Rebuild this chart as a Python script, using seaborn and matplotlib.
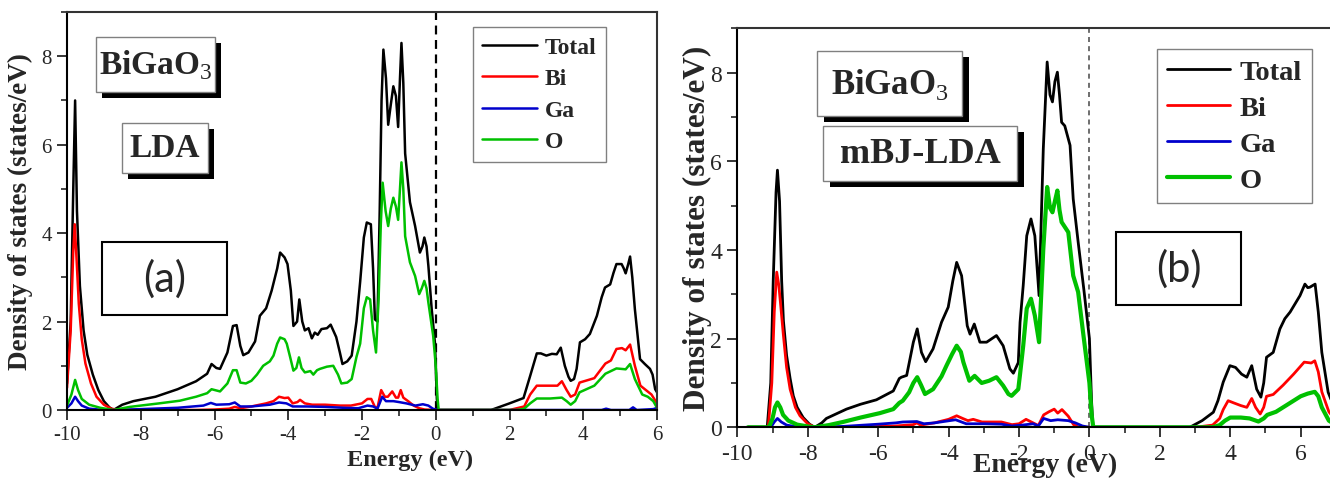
import matplotlib
matplotlib.use("Agg")
import matplotlib.pyplot as plt
from matplotlib.patches import Rectangle
from matplotlib.ticker import MultipleLocator
import seaborn as sns

# ---------------- (a) LDA ----------------
lda_total_e = [-10.0, -9.9, -9.83, -9.78, -9.73, -9.65, -9.55, -9.45, -9.3, -9.15, -9.0, -8.85, -8.74, -8.5,
               -8.2, -7.6, -7.0, -6.5, -6.2, -6.08, -5.95, -5.85, -5.65, -5.5, -5.4, -5.3, -5.22, -5.08, -4.9,
               -4.77, -4.6, -4.45, -4.3, -4.22, -4.1, -4.02, -3.93, -3.86, -3.76, -3.7, -3.62, -3.55, -3.45,
               -3.36, -3.28, -3.2, -3.1, -2.95, -2.85, -2.7, -2.6, -2.53, -2.4, -2.28, -2.15, -2.05, -1.95,
               -1.87, -1.76, -1.7, -1.65, -1.58, -1.52, -1.47, -1.42, -1.35, -1.29, -1.22, -1.15, -1.08, -1.02,
               -0.97, -0.93, -0.88, -0.83, -0.7, -0.56, -0.43, -0.36, -0.31, -0.25, -0.2, -0.11, -0.02, 0.03,
               0.06, 1.5, 2.0, 2.38, 2.56, 2.74, 2.85, 3.0, 3.15, 3.28, 3.39, 3.5, 3.6, 3.66, 3.75, 3.82, 3.91,
               4.05, 4.18, 4.37, 4.5, 4.59, 4.73, 4.82, 4.9, 5.04, 5.1, 5.15, 5.22, 5.27, 5.33, 5.4, 5.54, 5.67,
               5.81, 5.88, 5.95, 6.0]
lda_total = [0.6, 2.0, 5.0, 7.0, 4.5, 2.8, 1.8, 1.25, 0.8, 0.45, 0.2, 0.06, 0.0, 0.12,
             0.2, 0.3, 0.47, 0.65, 0.82, 1.04, 0.95, 0.93, 1.3, 1.9, 1.92, 1.45, 1.24, 1.3, 1.55,
             2.13, 2.3, 2.7, 3.2, 3.56, 3.45, 3.3, 2.7, 1.9, 2.0, 2.5, 2.0, 1.8, 1.85,
             1.62, 1.75, 1.7, 1.83, 1.85, 1.93, 1.65, 1.3, 1.04, 1.1, 1.23, 2.0, 2.9, 3.9,
             4.24, 4.2, 3.2, 2.05, 2.0, 4.5, 7.0, 8.15, 7.5, 6.45, 6.9, 7.32, 7.1, 6.4,
             7.5, 8.3, 7.4, 5.8, 4.7, 4.16, 3.56, 3.7, 3.9, 3.7, 3.26, 2.28, 1.5, 0.25,
             0.0, 0.0, 0.15, 0.27, 0.77, 1.28, 1.28, 1.23, 1.27, 1.26, 1.41, 1.0, 0.75, 0.66, 0.7, 0.93, 1.53,
             1.6, 1.72, 2.13, 2.55, 2.77, 2.84, 3.1, 3.3, 3.3, 3.2, 3.09, 3.3, 3.47, 3.0, 2.28, 1.15, 1.04,
             0.93, 0.8, 0.47, 0.4]

lda_bi_e = [-10.0, -9.9, -9.83, -9.79, -9.74, -9.68, -9.6, -9.5, -9.35, -9.2, -9.0, -8.8, -8.6, -6.5, -6.0,
            -5.6, -5.45, -5.3, -5.0, -4.6, -4.4, -4.25, -4.1, -4.0, -3.88, -3.75, -3.68, -3.55, -3.35, -3.0,
            -2.6, -2.3, -2.0, -1.85, -1.75, -1.65, -1.58, -1.48, -1.38, -1.3, -1.18, -1.08, -1.02, -0.95,
            -0.88, -0.75, -0.6, -0.45, -0.3, 0.0, 2.0, 2.4, 2.56, 2.74, 3.3, 3.42, 3.55, 3.66, 3.78, 3.9,
            4.3, 4.6, 4.75, 4.9, 5.05, 5.15, 5.27, 5.4, 5.55, 5.7, 5.85, 6.0]
lda_bi = [0.5, 1.8, 3.6, 4.2, 3.4, 2.4, 1.6, 1.05, 0.6, 0.3, 0.12, 0.03, 0.0, 0.0, 0.01,
          0.03, 0.07, 0.04, 0.08, 0.15, 0.2, 0.3, 0.27, 0.28, 0.15, 0.18, 0.23, 0.15, 0.12, 0.12,
          0.1, 0.1, 0.15, 0.25, 0.25, 0.07, 0.05, 0.45, 0.3, 0.3, 0.42, 0.28, 0.28, 0.45,
          0.28, 0.2, 0.1, 0.04, 0.01, 0.0, 0.0, 0.08, 0.35, 0.55, 0.55, 0.65, 0.45, 0.3, 0.35, 0.62,
          0.72, 1.05, 1.12, 1.38, 1.4, 1.35, 1.48, 1.0, 0.55, 0.45, 0.35, 0.15]

lda_ga_e = [-10.0, -9.88, -9.78, -9.7, -9.6, -9.4, -9.0, -8.7, -8.0, -7.0, -6.3, -6.1, -5.95, -5.6, -5.45,
            -5.3, -5.0, -4.5, -4.25, -4.05, -3.88, -3.5, -3.0, -2.5, -2.1, -1.85, -1.7, -1.58, -1.45, -1.35,
            -1.15, -1.0, -0.8, -0.55, -0.35, -0.2, -0.08, 0.05, 4.5, 4.62, 4.75, 5.25, 5.35, 5.45, 5.9, 6.0]
lda_ga = [0.05, 0.15, 0.3, 0.2, 0.1, 0.03, 0.0, 0.0, 0.02, 0.05, 0.1, 0.16, 0.12, 0.13, 0.17,
          0.08, 0.08, 0.12, 0.17, 0.15, 0.08, 0.08, 0.07, 0.05, 0.04, 0.1, 0.08, 0.03, 0.3, 0.2,
          0.2, 0.18, 0.15, 0.1, 0.13, 0.1, 0.03, 0.0, 0.0, 0.03, 0.0, 0.0, 0.06, 0.0, 0.02, 0.05]

lda_o_e = [-10.0, -9.88, -9.78, -9.7, -9.6, -9.4, -9.1, -8.74, -8.3, -7.5, -6.94, -6.5, -6.2, -6.08, -5.85,
           -5.65, -5.5, -5.4, -5.3, -5.15, -5.0, -4.85, -4.68, -4.5, -4.4, -4.3, -4.22, -4.1, -4.04, -3.95,
           -3.86, -3.78, -3.71, -3.64, -3.55, -3.4, -3.32, -3.22, -3.14, -2.95, -2.78, -2.65, -2.56, -2.4,
           -2.28, -2.15, -2.05, -1.95, -1.87, -1.78, -1.7, -1.62, -1.55, -1.49, -1.44, -1.36, -1.29, -1.22,
           -1.15, -1.08, -1.02, -0.97, -0.93, -0.88, -0.83, -0.7, -0.56, -0.45, -0.38, -0.31, -0.25, -0.2,
           -0.07, 0.0, 0.05, 0.08, 2.2, 2.4, 2.56, 2.74, 3.1, 3.42, 3.55, 3.66, 3.78, 3.9, 4.3, 4.6, 4.9,
           5.15, 5.27, 5.4, 5.6, 5.75, 5.9, 6.0]
lda_o = [0.1, 0.35, 0.68, 0.45, 0.25, 0.12, 0.05, 0.0, 0.07, 0.15, 0.21, 0.3, 0.38, 0.47, 0.42,
         0.6, 0.9, 0.9, 0.62, 0.6, 0.66, 0.8, 1.0, 1.1, 1.23, 1.5, 1.64, 1.6, 1.5, 1.2,
         0.89, 0.95, 1.19, 0.95, 0.85, 0.88, 0.8, 0.9, 0.93, 0.98, 1.0, 0.8, 0.6, 0.62,
         0.7, 1.2, 1.5, 2.3, 2.55, 2.5, 1.8, 1.3, 2.5, 4.2, 5.14, 4.5, 4.16, 4.55,
         4.8, 4.6, 4.3, 5.0, 5.6, 5.0, 3.93, 3.34, 3.03, 2.62, 2.75, 2.92, 2.75, 2.43,
         1.68, 1.0, 0.25, 0.0, 0.0, 0.03, 0.15, 0.26, 0.26, 0.28, 0.2, 0.12, 0.2, 0.4, 0.55, 0.82, 0.94,
         0.92, 1.04, 0.7, 0.35, 0.3, 0.2, 0.05]

# ---------------- (b) mBJ-LDA ----------------
mbj_total_e = [-9.7, -9.15, -9.05, -8.98, -8.9, -8.86, -8.8, -8.74, -8.69, -8.6, -8.5, -8.41, -8.3, -8.13,
               -7.95, -7.8, -7.6, -7.47, -6.9, -6.5, -6.05, -5.57, -5.4, -5.34, -5.19, -5.0, -4.89, -4.77,
               -4.65, -4.44, -4.2, -4.01, -3.88, -3.77, -3.63, -3.47, -3.39, -3.27, -3.11, -2.92, -2.64,
               -2.45, -2.26, -2.16, -2.02, -1.97, -1.88, -1.78, -1.66, -1.55, -1.43, -1.31, -1.2, -1.12,
               -1.05, -0.98, -0.91, -0.85, -0.79, -0.7, -0.55, -0.46, -0.32, -0.16, 0.0, 0.06, 0.1, 2.85,
               3.2, 3.52, 3.65, 3.8, 3.99, 4.15, 4.32, 4.47, 4.61, 4.75, 4.87, 4.95, 5.03, 5.22, 5.41, 5.55,
               5.7, 5.98, 6.12, 6.2, 6.26, 6.41, 6.5, 6.6, 6.78, 6.9, 7.0]
mbj_total = [0.0, 0.0, 1.0, 3.3, 5.3, 5.8, 5.1, 3.3, 2.4, 1.62, 1.1, 0.71, 0.45, 0.22,
             0.07, 0.0, 0.1, 0.2, 0.41, 0.52, 0.62, 0.82, 1.1, 1.13, 1.17, 1.92, 2.22, 1.69,
             1.48, 1.77, 2.37, 2.71, 3.3, 3.72, 3.42, 2.29, 2.1, 2.33, 1.92, 1.92, 2.07,
             1.84, 1.32, 1.22, 1.46, 2.37, 3.2, 4.32, 4.7, 4.32, 2.97, 6.28, 8.24, 7.5,
             7.34, 7.8, 8.01, 7.5, 6.88, 6.8, 6.36, 5.15, 4.18, 3.12, 2.0, 0.6, 0.0, 0.0,
             0.15, 0.34, 0.6, 1.02, 1.39, 1.35, 1.2, 1.13, 1.39, 0.86, 0.68, 1.0, 1.58, 1.69, 2.22, 2.45,
             2.6, 2.97, 3.23, 3.15, 3.16, 3.23, 2.6, 1.69, 0.79, 0.55, 0.45]

mbj_bi_e = [-9.7, -9.12, -9.02, -8.95, -8.88, -8.82, -8.75, -8.69, -8.6, -8.5, -8.35, -8.22, -8.0, -7.8,
            -6.5, -6.0, -5.5, -5.0, -4.9, -4.8, -4.4, -4.0, -3.77, -3.6, -3.45, -3.3, -3.05, -2.5, -2.2,
            -2.0, -1.8, -1.65, -1.45, -1.3, -1.15, -1.0, -0.9, -0.78, -0.6, -0.45, -0.3, 3.0, 3.5, 3.7,
            3.8, 3.94, 4.1, 4.3, 4.47, 4.61, 4.72, 4.85, 4.95, 5.03, 5.22, 5.5, 5.8, 6.1, 6.3, 6.4, 6.5,
            6.6, 6.8, 7.0]
mbj_bi = [0.0, 0.0, 1.0, 2.6, 3.5, 3.2, 2.6, 2.07, 1.35, 0.86, 0.45, 0.26, 0.08, 0.0,
          0.0, 0.02, 0.03, 0.06, 0.1, 0.05, 0.1, 0.18, 0.26, 0.2, 0.15, 0.18, 0.12, 0.12, 0.06,
          0.08, 0.18, 0.12, 0.04, 0.28, 0.35, 0.41, 0.32, 0.4, 0.25, 0.06, 0.0, 0.0, 0.05, 0.2,
          0.4, 0.6, 0.55, 0.49, 0.45, 0.65, 0.45, 0.3, 0.45, 0.7, 0.74, 0.95, 1.2, 1.47, 1.45, 1.5, 1.25,
          0.8, 0.35, 0.15]

mbj_ga_e = [-9.7, -9.05, -8.95, -8.86, -8.75, -8.6, -8.3, -7.8, -7.0, -6.0, -5.5, -5.3, -4.9, -4.7, -4.4,
            -3.8, -3.5, -3.0, -2.5, -2.2, -1.9, -1.6, -1.45, -1.3, -1.1, -0.9, -0.6, -0.4, -0.2, 0.0, 7.0]
mbj_ga = [0.0, 0.0, 0.12, 0.2, 0.12, 0.05, 0.01, 0.0, 0.02, 0.07, 0.1, 0.12, 0.13, 0.08, 0.1,
          0.17, 0.08, 0.08, 0.07, 0.03, 0.05, 0.08, 0.03, 0.2, 0.15, 0.17, 0.15, 0.1, 0.03, 0.0, 0.0]

mbj_o_e = [-9.7, -9.1, -9.0, -8.93, -8.86, -8.78, -8.7, -8.55, -8.3, -8.0, -7.8, -7.4, -7.0, -6.5, -5.95,
           -5.57, -5.4, -5.3, -5.12, -5.0, -4.89, -4.78, -4.67, -4.44, -4.2, -4.06, -3.9, -3.77, -3.65,
           -3.58, -3.41, -3.26, -3.06, -2.85, -2.64, -2.45, -2.3, -2.21, -2.02, -1.97, -1.88, -1.78, -1.66,
           -1.55, -1.43, -1.31, -1.2, -1.12, -1.05, -0.98, -0.91, -0.85, -0.79, -0.6, -0.46, -0.32, -0.18,
           0.0, 0.06, 0.11, 3.5, 3.7, 3.85, 4.0, 4.3, 4.55, 4.8, 4.95, 5.05, 5.3, 5.6, 6.0, 6.2, 6.4, 6.5,
           6.6, 6.8, 7.0]
mbj_o = [0.0, 0.0, 0.2, 0.45, 0.56, 0.45, 0.28, 0.15, 0.06, 0.02, 0.0, 0.05, 0.12, 0.22, 0.32,
         0.41, 0.55, 0.6, 0.79, 1.0, 1.13, 0.95, 0.75, 0.86, 1.15, 1.39, 1.65, 1.84, 1.7,
         1.47, 1.05, 1.16, 1.0, 1.05, 1.13, 0.94, 0.75, 0.71, 0.86, 1.2, 1.84, 2.68, 2.9,
         2.52, 1.92, 4.02, 5.42, 4.95, 4.85, 5.1, 5.34, 4.9, 4.63, 4.4, 3.42, 3.05, 2.14,
         1.0, 0.3, 0.0, 0.0, 0.05, 0.15, 0.22, 0.22, 0.2, 0.13, 0.2, 0.28, 0.35, 0.5, 0.7, 0.76, 0.8, 0.7,
         0.45, 0.15, 0.05]

species = ["Total", "Bi", "Ga", "O"]
colors = {"Total": "#000000", "Bi": "#ff0000", "Ga": "#0000cc", "O": "#00c000"}

W, H = 1330, 481
sns.set_style("ticks")
plt.rcParams["font.family"] = ["Liberation Serif", "DejaVu Serif"]
plt.rcParams["mathtext.fontset"] = "custom"
plt.rcParams["mathtext.rm"] = "Liberation Serif"
plt.rcParams["mathtext.bf"] = "Liberation Serif:bold"
plt.rcParams["axes.unicode_minus"] = False

fig = plt.figure(figsize=(W / 100, H / 100), dpi=100)
fig.patch.set_facecolor("white")


def px_axes(x0, y0, x1, y1):
    return [x0 / W, 1 - y1 / H, (x1 - x0) / W, (y1 - y0) / H]


def fig_box(x0, y0, x1, y1, text, size, shadow=None, edge="#808080", lw=1.0,
            family=None, weight="bold", dy=0.0):
    if shadow:
        sx, sy = shadow
        fig.add_artist(Rectangle(((x0 + sx) / W, 1 - (y1 + sy) / H),
                                 (x1 - x0) / W, (y1 - y0) / H, transform=fig.transFigure,
                                 facecolor="black", edgecolor="black", lw=0, zorder=5))
    fig.add_artist(Rectangle((x0 / W, 1 - y1 / H), (x1 - x0) / W, (y1 - y0) / H,
                             transform=fig.transFigure, facecolor="white", edgecolor=edge,
                             lw=lw, zorder=6))
    kw = dict(ha="center", va="center", fontsize=size, weight=weight, zorder=7)
    if family:
        kw["family"] = family
    fig.text((x0 + x1) / 2 / W, 1 - ((y0 + y1) / 2 + dy) / H, text, **kw)


def draw_panel(ax, data, lws, xmax, tick_fs, zero_style):
    for name in species:
        e, d = data[name]
        sns.lineplot(x=e, y=d, ax=ax, color=colors[name], linewidth=lws[name],
                     sort=False, estimator=None, label=name, legend=False)
    handles = list(ax.get_lines())
    ax.axvline(0, **zero_style)
    ax.set_xlim(-10, xmax)
    ax.set_ylim(0, 9)
    ax.xaxis.set_major_locator(MultipleLocator(2))
    ax.xaxis.set_minor_locator(MultipleLocator(1))
    ax.yaxis.set_major_locator(MultipleLocator(2))
    ax.yaxis.set_minor_locator(MultipleLocator(1))
    ax.set_yticks([0, 2, 4, 6, 8])
    ax.tick_params(which="major", direction="out", length=7, width=1.3, labelsize=tick_fs, pad=4)
    ax.tick_params(which="minor", direction="out", length=4, width=1.2)
    for s in ax.spines.values():
        s.set_visible(True)
        s.set_color("black")
        s.set_linewidth(1.5)
    ax.spines["top"].set_color("#333333")
    ax.spines["right"].set_color("#333333")
    return handles


# panel (a)
ax1 = fig.add_axes(px_axes(67, 13, 657, 411))
h1 = draw_panel(ax1,
                {"Total": (lda_total_e, lda_total), "Bi": (lda_bi_e, lda_bi),
                 "Ga": (lda_ga_e, lda_ga), "O": (lda_o_e, lda_o)},
                {"Total": 1.8, "Bi": 1.8, "Ga": 1.8, "O": 1.8}, 6, 15,
                dict(color="black", lw=1.6, ls=(0, (4, 2.5)), zorder=1))
ax1.set_ylabel("Density of states (states/eV)", fontsize=19.5, weight="bold")
ax1.yaxis.set_label_coords(-34 / 590, 0.5)
ax1.set_xlabel("Energy (eV)", fontsize=17.5, weight="bold")
ax1.xaxis.set_label_coords((410 - 67) / 590, -(450 - 411) / 398)
leg1 = ax1.legend(handles=h1, labels=species, loc="upper left",
                  bbox_to_anchor=(473 / W, 1 - 28 / H), bbox_transform=fig.transFigure,
                  borderaxespad=0, frameon=True, fancybox=False, framealpha=1,
                  prop={"weight": "bold", "size": 17}, handlelength=2.3, handletextpad=0.35,
                  labelspacing=0.42, borderpad=0.4)
leg1.get_frame().set_edgecolor("#808080")
leg1.get_frame().set_linewidth(1.0)

# panel (b)
ax2 = fig.add_axes(px_axes(737.3, 29.3, 1335.9, 428.3))
h2 = draw_panel(ax2,
                {"Total": (mbj_total_e, mbj_total), "Bi": (mbj_bi_e, mbj_bi),
                 "Ga": (mbj_ga_e, mbj_ga), "O": (mbj_o_e, mbj_o)},
                {"Total": 2.0, "Bi": 2.0, "Ga": 2.0, "O": 3.0}, 7, 17,
                dict(color="#555555", lw=1.2, ls=(0, (3, 2.5)), zorder=1))
ax2.set_ylabel("Density of states (states/eV)", fontsize=22.5, weight="bold")
ax2.yaxis.set_label_coords(-(737.3 - 712) / 598.6, 0.5)
ax2.set_xlabel("Energy (eV)", fontsize=20, weight="bold")
ax2.xaxis.set_label_coords((1045 - 737.3) / 598.6, -(453 - 428.3) / 399)
leg2 = ax2.legend(handles=h2, labels=species, loc="upper left",
                  bbox_to_anchor=(1157 / W, 1 - 50 / H), bbox_transform=fig.transFigure,
                  borderaxespad=0, frameon=True, fancybox=False, framealpha=1,
                  prop={"weight": "bold", "size": 20.5}, handlelength=2.2, handletextpad=0.35,
                  labelspacing=0.36, borderpad=0.35)
leg2.get_frame().set_edgecolor("#808080")
leg2.get_frame().set_linewidth(1.0)

# annotation boxes
fig_box(96, 38, 215, 93, r"$\mathbf{BiGaO}_{\mathrm{3}}$", 24, shadow=(6, 6))
fig_box(122, 124, 208, 174, "LDA", 24, shadow=(6, 6))
fig_box(102, 243, 227, 316, "(a)", 30, edge="black", lw=1.5, family="Lato", weight="normal")
fig_box(817, 52, 962, 117, r"$\mathbf{BiGaO}_{\mathrm{3}}$", 25, shadow=(7, 6))
fig_box(823, 127, 1017, 182, "mBJ-LDA", 26, shadow=(7, 6))
fig_box(1116, 233, 1241, 306, "(b)", 30, edge="black", lw=1.5, family="Lato", weight="normal")

fig.savefig("out.png", dpi=100, facecolor="white")
